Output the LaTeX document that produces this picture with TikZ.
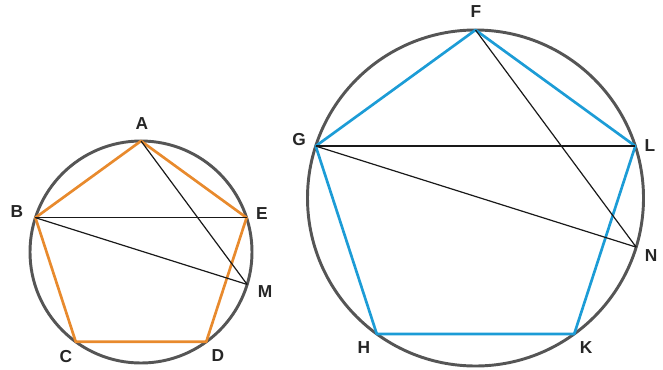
\documentclass[tikz,border=0pt]{standalone}
\usepackage{fontspec}
\setmainfont{Liberation Sans}
\definecolor{rimgray}{RGB}{85,85,85}
\definecolor{pentorange}{RGB}{232,138,45}
\definecolor{pentblue}{RGB}{28,156,214}
\begin{document}
\begin{tikzpicture}[x=0.75pt,y=0.75pt,
    rim/.style={rimgray, line width=2.2pt},
    side/.style={line width=2pt, line join=round},
    chord/.style={black!90, line width=0.9pt},
    vlabel/.style={font=\fontsize{13}{15}\selectfont\bfseries, text=black!85, inner sep=0pt}]
\useasboundingbox (0,0) rectangle (663,369);

% Left circle and pentagon ABCDE
\begin{scope}[shift={(141,117)}]
    \draw[rim] (0,0) circle (111);
    \foreach \n/\a in {A/90, B/162, C/234, D/306, E/18, M/-17}
        \coordinate (\n) at (\a:111);
\end{scope}
\draw[side, pentorange] (A) -- (B) -- (C) -- (D) -- (E) -- cycle;

% Right circle and pentagon FGHKL
\begin{scope}[shift={(475.5,171)}]
    \draw[rim] (0,0) circle (168);
    \foreach \n/\a in {F/90, G/162, H/234, K/306, L/18, N/-17}
        \coordinate (\n) at (\a:168);
\end{scope}
\draw[side, pentblue] (F) -- (G) -- (H) -- (K) -- (L) -- cycle;

% Chords
\draw[chord] (B) -- (E);
\draw[chord] (B) -- (M);
\draw[chord] (A) -- (M);
\draw[chord] (G) -- (L);
\draw[chord] (G) -- (N);
\draw[chord] (F) -- (N);

% Labels
\node[vlabel] (lA) at (142,245) {A};
\node[vlabel] (lB) at (17,157) {B};
\node[vlabel] (lC) at (66,12) {C};
\node[vlabel] (lD) at (218,13) {D};
\node[vlabel] (lE) at (262,155) {E};
\node[vlabel] (lM) at (265,77) {M};
\node[vlabel] (lF) at (476,357) {F};
\node[vlabel] (lG) at (299,229) {G};
\node[vlabel] (lH) at (364,21) {H};
\node[vlabel] (lK) at (586,21) {K};
\node[vlabel] (lL) at (650,223) {L};
\node[vlabel] (lN) at (651,113) {N};
\end{tikzpicture}
\end{document}
